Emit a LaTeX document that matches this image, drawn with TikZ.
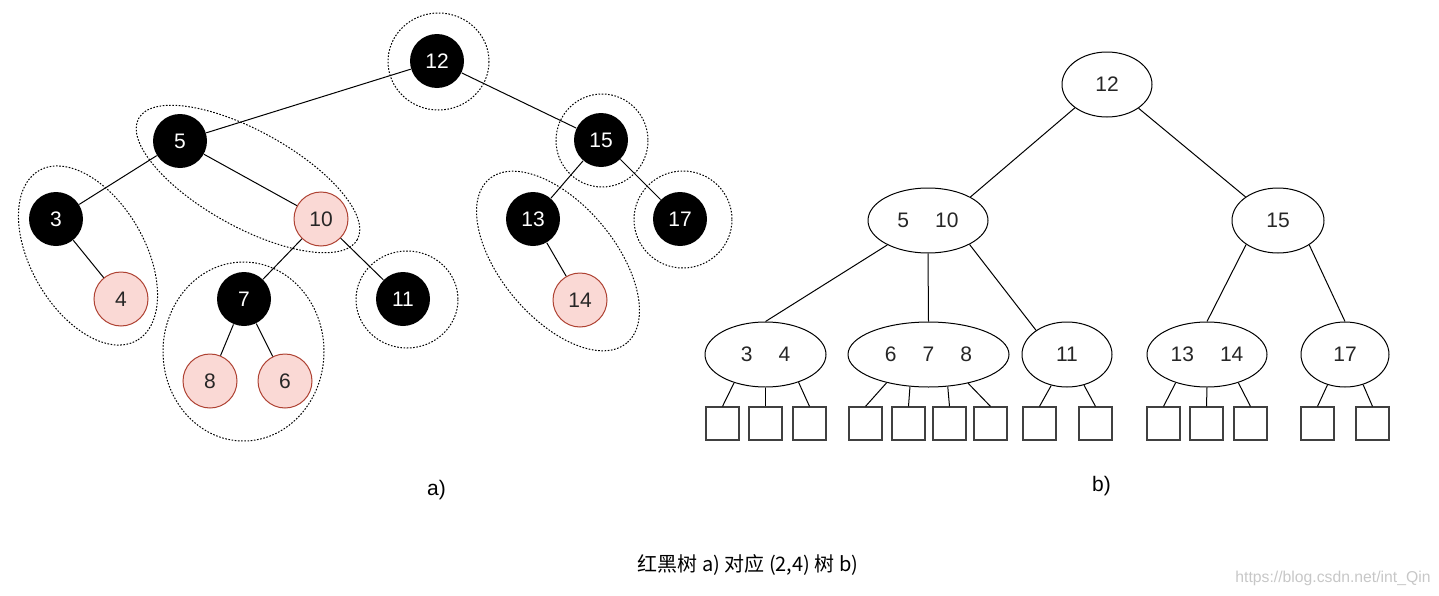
\documentclass[tikz,border=0pt]{standalone}
\usepackage{fontspec}
\setmainfont{Liberation Sans}
\newfontfamily\cjk{Noto Sans CJK SC}
\usetikzlibrary{shapes.geometric}
\definecolor{pinkfill}{HTML}{FAD9D5}
\definecolor{pinkline}{HTML}{AE4132}
\newcommand\kgap{\hspace*{19.5pt}}

\begin{document}
\begin{tikzpicture}[x=0.75pt, y=-0.75pt, line width=0.75pt,
    font=\fontsize{15.75}{18}\selectfont,
    blk/.style={circle, fill=black, text=white, minimum size=40.5pt, inner sep=0pt},
    pnk/.style={circle, draw=pinkline, fill=pinkfill, text=black!85, minimum size=40.5pt, inner sep=0pt},
    grp/.style={dash pattern=on 1.2pt off 1.2pt},
    key/.style={ellipse, draw, minimum height=48.75pt, inner sep=0pt, text=black!85},
    leaf/.style={rectangle, draw=black!75, line width=0.9pt, minimum size=24.75pt, inner sep=0pt}]
    \useasboundingbox (0,0) rectangle (1439,596);

    % a) red-black tree
    \node[blk] (r12) at (437,61) {12};
    \node[blk] (r5) at (180,141) {5};
    \node[blk] (r15) at (601,140) {15};
    \node[blk] (r3) at (56,219) {3};
    \node[pnk] (r10) at (321,219) {10};
    \node[blk] (r13) at (533,219) {13};
    \node[blk] (r17) at (680,219) {17};
    \node[pnk] (r4) at (121,299) {4};
    \node[blk] (r7) at (244,299) {7};
    \node[blk] (r11) at (403,299) {11};
    \node[pnk] (r14) at (580,300) {14};
    \node[pnk] (r8) at (210,381) {8};
    \node[pnk] (r6) at (285,381) {6};

    \draw (r12) edge (r5);
    \draw (r12) edge (r15);
    \draw (r5) edge (r3);
    \draw (r5) edge (r10);
    \draw (r3) edge (r4);
    \draw (r10) edge (r7);
    \draw (r10) edge (r11);
    \draw (r7) edge (r8);
    \draw (r7) edge (r6);
    \draw (r15) edge (r13);
    \draw (r15) edge (r17);
    \draw (r13) edge (r14);

    % dotted groups = 2-4 nodes
    \draw[grp] (438.5,61.5) ellipse [x radius=50.5, y radius=48.5];
    \draw[grp] (602,140.5) ellipse [x radius=46, y radius=46.5];
    \draw[grp] (683,219.5) ellipse [x radius=49, y radius=48.5];
    \draw[grp] (407,299.5) ellipse [x radius=51, y radius=48.5];
    \draw[grp] (243.5,351.5) ellipse [x radius=80.5, y radius=89.5];
    \draw[grp, rotate around={-29:(248,179)}] (248,179) ellipse [x radius=125, y radius=48];
    \draw[grp, rotate around={-60:(88,255.5)}] (88,255.5) ellipse [x radius=98, y radius=57];
    \draw[grp, rotate around={-50:(558,261)}] (558,261) ellipse [x radius=107, y radius=57];

    % b) (2,4) tree
    \node[key, minimum width=67.5pt] (b12) at (1107,84.5) {12};
    \node[key, minimum width=90pt] (b510) at (928,220.5) {5\kgap10};
    \node[key, minimum width=69pt] (b15) at (1278,220.5) {15};
    \node[key, minimum width=90.75pt] (b34) at (765.5,354.5) {3\kgap4};
    \node[key, minimum width=120.75pt] (b678) at (928.5,354.5) {6\kgap7\kgap8};
    \node[key, minimum width=67.5pt] (b11) at (1067,354.5) {11};
    \node[key, minimum width=90pt] (b1314) at (1207,354.5) {13\kgap14};
    \node[key, minimum width=66pt] (b17) at (1345,354.5) {17};

    \node[leaf] (l1) at (722.5,423.5) {};
    \node[leaf] (l2) at (765.5,423.5) {};
    \node[leaf] (l3) at (809.5,423.5) {};
    \node[leaf] (l4) at (865.5,423.5) {};
    \node[leaf] (l5) at (908.5,423.5) {};
    \node[leaf] (l6) at (949.5,423.5) {};
    \node[leaf] (l7) at (990.5,423.5) {};
    \node[leaf] (l8) at (1039.5,423.5) {};
    \node[leaf] (l9) at (1095.5,423.5) {};
    \node[leaf] (l10) at (1163.5,423.5) {};
    \node[leaf] (l11) at (1206.5,423.5) {};
    \node[leaf] (l12) at (1250.5,423.5) {};
    \node[leaf] (l13) at (1317.5,423.5) {};
    \node[leaf] (l14) at (1372.5,423.5) {};

    \draw (b12.216) edge (b510.29);
    \draw (b12.323) edge (b15.144);
    \draw (b510.211) edge (b34.north);
    \draw (b510.south) edge (b678.north);
    \draw (b510.330) edge (b11.142);
    \draw (b15.217) edge (b1314.north);
    \draw (b15.322) edge (b17.north);

    \draw (b34.222) edge (l1.north);
    \draw (b34.south) edge (l2.north);
    \draw (b34.320) edge (l3.north);
    \draw (b678.214) edge (l4.north);
    \draw (b678.240) edge (l5.north);
    \draw (b678.301) edge (l6.north);
    \draw (b678.324) edge (l7.north);
    \draw (b11.243) edge (l8.north);
    \draw (b11.299) edge (l9.north);
    \draw (b1314.222) edge (l10.north);
    \draw (b1314.south) edge (l11.north);
    \draw (b1314.318) edge (l12.north);
    \draw (b17.240) edge (l13.north);
    \draw (b17.301) edge (l14.north);

    % captions
    \node (capa) at (436.5,490) {a)};
    \node (capb) at (1101.5,486) {b)};
    \node[font=\fontsize{15}{17}\selectfont] (cap) at (748,565) {\cjk 红黑树 a) 对应 (2,4) 树 b)};
    \node[text=black!22, font=\fontsize{11.8}{13}\selectfont] (wm) at (1333,578) {https://blog.csdn.net/int\_Qin};
\end{tikzpicture}
\end{document}
